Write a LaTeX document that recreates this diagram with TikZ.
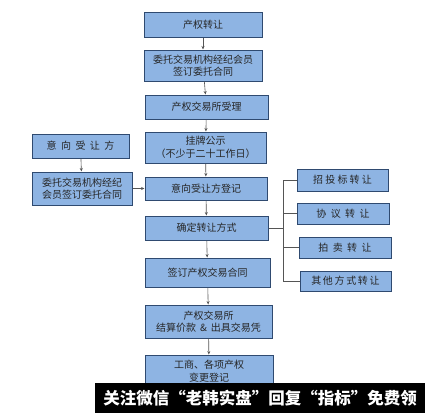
\documentclass[tikz,border=0pt]{standalone}
\usepackage{fontspec}
\setmainfont{Noto Sans CJK SC}
\usetikzlibrary{arrows.meta}
\definecolor{boxfill}{HTML}{8EB4E3}
\definecolor{boxline}{HTML}{2F4A70}
\definecolor{linegray}{HTML}{555555}
\begin{document}
\begin{tikzpicture}[x=1pt,y=-1pt,
  box/.style={draw=boxline,line width=1pt,fill=boxfill,inner sep=0pt,align=center,
    font=\fontsize{10}{12.5}\selectfont,text=black!85},
  conn/.style={draw=linegray,line width=0.6pt},
  arr/.style={conn,-{Stealth[length=3.5pt,width=3pt]}}]
\useasboundingbox (0,0) rectangle (425,413);
\fill[white] (0,0) rectangle (425,413);
\node[box,minimum width=118pt,minimum height=25pt] (b1) at (203,24.5) {产权转让};
\node[box,minimum width=118pt,minimum height=31pt] (b2) at (203,65.5) {委托交易机构经纪会员\\签订委托合同};
\node[box,minimum width=123pt,minimum height=24pt] (b3) at (206.5,107) {产权交易所受理};
\node[box,minimum width=121pt,minimum height=31pt] (b4) at (205.5,147.5) {挂牌公示\\（不少于二十工作日）};
\node[box,minimum width=122pt,minimum height=23pt] (b5) at (206,188.5) {意向受让方登记};
\node[box,minimum width=123pt,minimum height=24pt] (b6) at (206.5,228) {确定转让方式};
\node[box,minimum width=125pt,minimum height=29pt] (b7) at (207.5,272.5) {签订产权交易合同};
\node[box,minimum width=127pt,minimum height=33pt] (b8) at (208.5,321.5) {产权交易所\\结算价款 \,\&\, 出具交易凭};
\node[box,minimum width=128pt,minimum height=32pt] (b9) at (209,371) {工商、各项产权\\变更登记};
\node[box,minimum width=97pt,minimum height=24pt] (la) at (80.5,146) {意\ \ 向\ \ 受\ \ 让\ \ 方};
\node[box,minimum width=100pt,minimum height=33pt] (lb) at (82,188.5) {委托交易机构经纪\\会员签订委托合同};
\node[box,minimum width=91pt,minimum height=22pt] (r1) at (342.5,180) {招\ 投\ 标\ 转\ 让};
\node[box,minimum width=92pt,minimum height=21pt] (r2) at (343,213.5) {协\ \ 议\ \ 转\ \ 让};
\node[box,minimum width=92pt,minimum height=21pt] (r3) at (345,247.5) {拍\ \ 卖\ \ 转\ \ 让};
\node[box,minimum width=91pt,minimum height=20pt] (r4) at (345.5,281) {其\,他\,方\,式\,转\,让};
\coordinate (brk) at (283,228);
\draw[arr] (b1) -- (b2);
\draw[arr] (b2) -- (b3);
\draw[arr] (b3) -- (b4);
\draw[arr] (b4) -- (b5);
\draw[arr] (b5) -- (b6);
\draw[arr] (b6) -- (b7);
\draw[arr] (b7) -- (b8);
\draw[arr] (b8) -- (b9);
\draw[arr] (la) -- (lb);
\draw[arr] (lb) -- (lb -| b5.west);
\draw[conn] (b6.east) -- (brk);
\draw[conn] (brk |- r1.west) -- (brk |- r4.west);
\draw[conn] (brk |- r1.west) -- (r1.west);
\draw[conn] (brk |- r2.west) -- (r2.west);
\draw[conn] (brk |- r3.west) -- (r3.west);
\draw[conn] (brk |- r4.west) -- (r4.west);
\node[fill=black,minimum width=330pt,minimum height=30pt,inner sep=0pt,anchor=north west,
  text=white,font=\fontsize{16.5}{18}\selectfont\bfseries] (banner) at (95,383)
  {关注微信“老韩实盘”回复“指标”免费领};
\end{tikzpicture}
\end{document}
